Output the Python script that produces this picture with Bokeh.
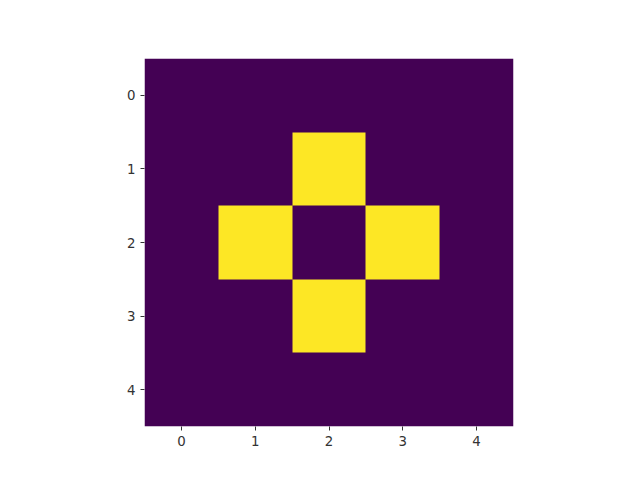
import numpy as np
from bokeh.plotting import figure
from bokeh.models import Range1d, FixedTicker, LinearColorMapper
from bokeh.embed import file_html
from bokeh.resources import INLINE

grid = [
    [0, 0, 0, 0, 0],
    [0, 0, 1, 0, 0],
    [0, 1, 0, 1, 0],
    [0, 0, 1, 0, 0],
    [0, 0, 0, 0, 0],
]
colors = ["#440154", "#fde725"]
ticks = [0, 1, 2, 3, 4]

p = figure(width=640, height=480, output_backend="svg", toolbar_location=None,
           x_range=Range1d(-0.5, 4.5), y_range=Range1d(4.5, -0.5),
           min_border_left=144, min_border_right=127, min_border_top=58, min_border_bottom=54)
mapper = LinearColorMapper(palette=colors, low=0, high=1)
p.image(image=[np.array(grid, dtype=float)], x=-0.5, y=-0.5, dw=5, dh=5, color_mapper=mapper)
p.xgrid.visible = False
p.ygrid.visible = False
p.outline_line_color = None
for ax in (p.xaxis, p.yaxis):
    ax.ticker = FixedTicker(ticks=ticks)
    ax.axis_line_color = None
    ax.minor_tick_line_color = None
    ax.major_tick_out = 4
    ax.major_tick_in = 0
    ax.major_tick_line_color = "#333333"
    ax.major_label_text_font = "DejaVu Sans"
    ax.major_label_text_font_size = "10pt"
    ax.major_label_text_color = "#333333"

open("out.html", "w").write(file_html(p, INLINE))
